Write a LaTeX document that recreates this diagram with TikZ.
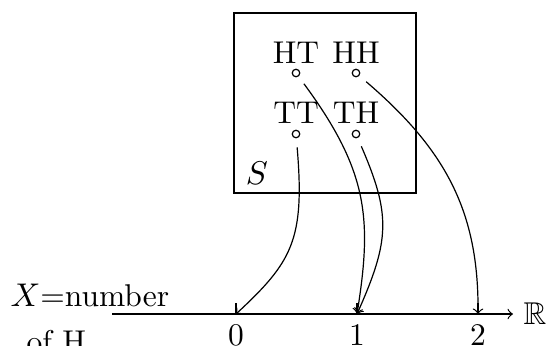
\documentclass[tikz,border=0pt]{standalone}
\usepackage{amsmath,amssymb}
\begin{document}
\begin{tikzpicture}[x=0.33333pt,y=-0.33333pt,
  every node/.style={font=\fontsize{10.5pt}{12.6pt}\selectfont},
  outcome/.style={circle,draw,inner sep=0pt,minimum size=2.5pt},
  olabel/.style={anchor=base,inner sep=0pt},
  mapto/.style={->,shorten <=3pt},
  ticklab/.style={below}]
\useasboundingbox (0,0) rectangle (548,345);
\clip (0,0) rectangle (548,345);
% sample space box
\node[draw,inner sep=0pt,minimum width=60.67pt,minimum height=60pt] (box) at (325,103) {};
\node[olabel] (S) at (257,184) {$S$};
% outcomes
\node[outcome] (HT) at (296,73) {};
\node[outcome] (HH) at (356,73) {};
\node[outcome] (TT) at (296,134) {};
\node[outcome] (TH) at (356,134) {};
\node[olabel] (lHT) at (296,63) {HT};
\node[olabel] (lHH) at (356,63) {HH};
\node[olabel] (lTT) at (296,123) {TT};
\node[olabel] (lTH) at (356,123) {TH};
% real line
\coordinate (a0) at (112,314);
\coordinate (a1) at (513,314);
\draw[->] (a0) -- (a1);
\node[anchor=west] (R) at (a1) {$\mathbb{R}$};
\coordinate (t0) at (236,314);
\coordinate (t1) at (357,314);
\coordinate (t2) at (478,314);
\draw (t0) -- ++(0,-11);
\draw (t1) -- ++(0,-11);
\draw (t2) -- ++(0,-11);
\node[ticklab] (n0) at (t0) {0};
\node[ticklab] (n1) at (t1) {1};
\node[ticklab] (n2) at (t2) {2};
% label of X
\node[anchor=base west,inner sep=0pt] (X1) at (10,306) {$X$=number};
\node[anchor=base west,inner sep=0pt] (X2) at (26,352) {of H};
% the map
\draw[mapto] (TT) .. controls (305,240) and (292,262) .. (t0);
\draw[mapto] (HT) .. controls (369,172) and (372,220) .. (t1);
\draw[mapto] (TH) .. controls (391,215) and (390,240) .. (t1);
\draw[mapto] (HH) .. controls (446,150) and (479,212) .. (t2);
\end{tikzpicture}
\end{document}
